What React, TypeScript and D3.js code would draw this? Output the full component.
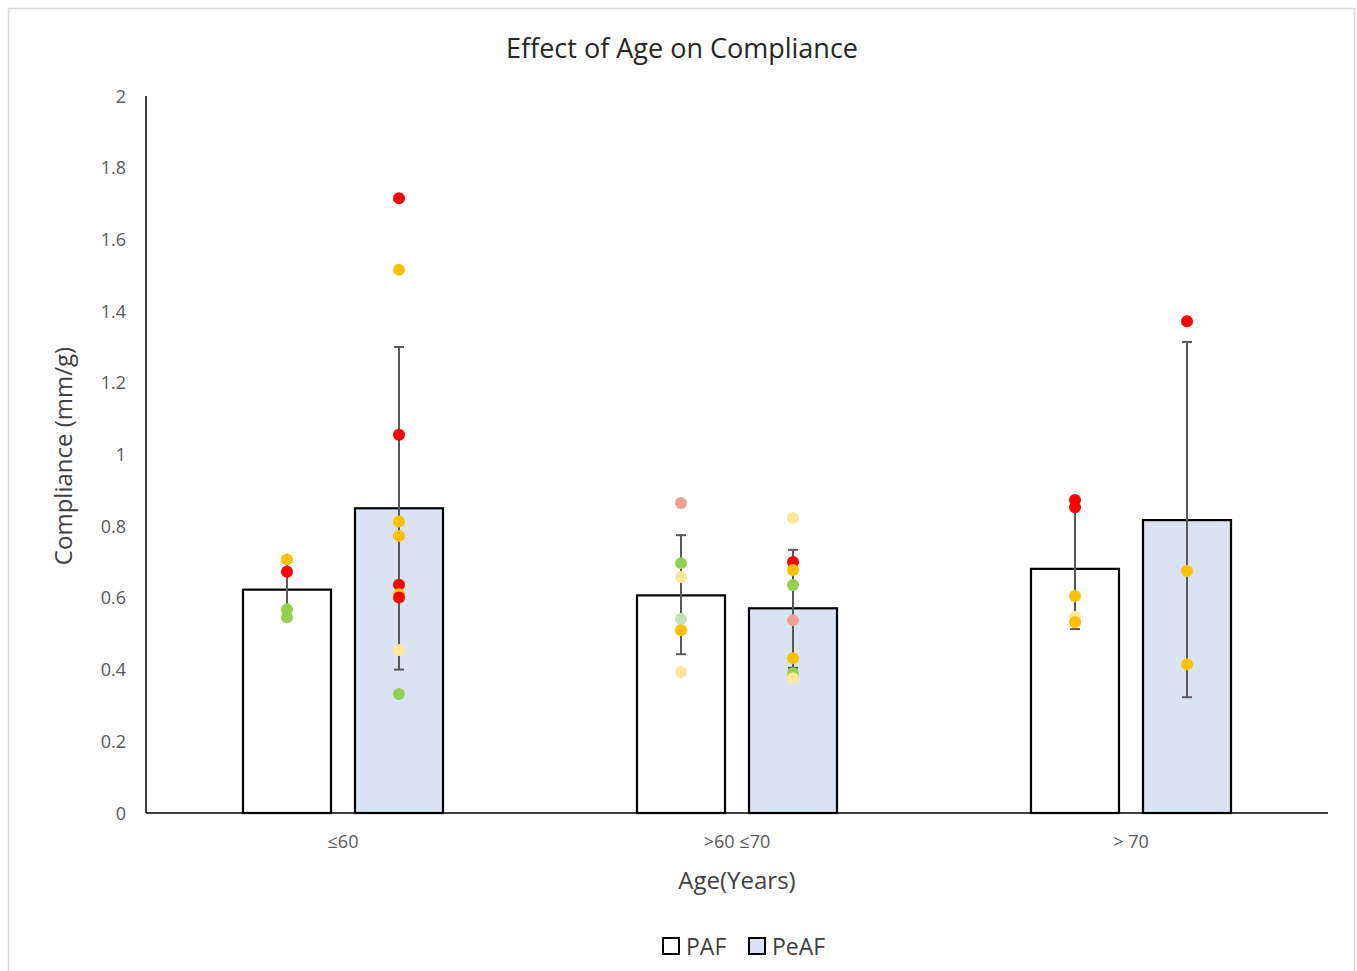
import React, { useEffect, useRef } from 'react';
import * as d3 from 'd3';

const categories = ['≤60', '>60 ≤70', '> 70'];
const seriesNames = ['PAF', 'PeAF'];
const pafMeans = [0.623, 0.607, 0.681];
const peafMeans = [0.850, 0.571, 0.817];
const pafErrLow = [0.55, 0.443, 0.513];
const pafErrHigh = [0.70, 0.775, 0.85];
const peafErrLow = [0.40, 0.405, 0.323];
const peafErrHigh = [1.30, 0.734, 1.314];

// individual patients, colour key per point
const pafPoints = [
  [0.707, 0.673, 0.568, 0.546],
  [0.865, 0.697, 0.658, 0.541, 0.510, 0.393],
  [0.873, 0.853, 0.605, 0.547, 0.532],
];
const pafPointKeys = [
  ['amber', 'red', 'green', 'green'],
  ['salmon', 'green', 'pale', 'sage', 'amber', 'pale'],
  ['red', 'red', 'amber', 'pale', 'amber'],
];
const peafPoints = [
  [1.715, 1.515, 1.055, 0.813, 0.773, 0.637, 0.610, 0.601, 0.455, 0.332],
  [0.823, 0.700, 0.678, 0.636, 0.538, 0.432, 0.390, 0.376],
  [1.372, 0.675, 0.415],
];
const peafPointKeys = [
  ['red', 'amber', 'red', 'amber', 'amber', 'red', 'amber', 'red', 'pale', 'green'],
  ['pale', 'red', 'amber', 'green', 'salmon', 'amber', 'green', 'pale'],
  ['red', 'amber', 'amber'],
];
const yTicks = [0, 0.2, 0.4, 0.6, 0.8, 1, 1.2, 1.4, 1.6, 1.8, 2];

const pointColors: Record<string, string> = {
  red: '#FF0000',
  amber: '#FFC000',
  green: '#92D050',
  pale: '#FFE699',
  salmon: '#ECA197',
  sage: '#C5E0B4',
};
const barFill: Record<string, string> = { PAF: '#FFFFFF', PeAF: '#DAE3F3' };

const App: React.FC = () => {
  const svgRef = useRef<SVGSVGElement>(null);

  useEffect(() => {
    if (!svgRef.current) return;
    const svg = d3.select(svgRef.current);
    svg.selectAll('*').remove();

    const font = '"Open Sans", sans-serif';
    const left = 146, right = 1328, top = 96, bottom = 813;

    const y = d3.scaleLinear().domain([0, 2]).range([bottom, top]);
    const x0 = d3.scaleBand<string>().domain(categories).range([left, right]);
    const x1 = d3.scaleBand<string>()
      .domain(seriesNames)
      .range([0, x0.bandwidth()])
      .paddingInner(0.2143)
      .paddingOuter(0.866);

    // outer frame
    svg.append('rect')
      .attr('x', 8.5).attr('y', 8.5)
      .attr('width', 1346).attr('height', 975)
      .attr('fill', '#fff')
      .attr('stroke', '#D9D9D9')
      .attr('stroke-width', 1.5);

    svg.append('text')
      .attr('x', 682).attr('y', 58)
      .attr('text-anchor', 'middle')
      .attr('font-family', font)
      .attr('font-size', 27)
      .attr('fill', '#262626')
      .text('Effect of Age on Compliance');

    // y tick labels
    svg.append('g').selectAll('text')
      .data(yTicks)
      .join('text')
      .attr('x', 126)
      .attr('y', d => y(d) + 6.5)
      .attr('text-anchor', 'end')
      .attr('font-family', font)
      .attr('font-size', 18)
      .attr('fill', '#595959')
      .text(d => String(d));

    const groups = categories.map((c, i) => ({
      cat: c,
      bars: [
        { name: 'PAF', mean: pafMeans[i], lo: pafErrLow[i], hi: pafErrHigh[i], pts: pafPoints[i], keys: pafPointKeys[i] },
        { name: 'PeAF', mean: peafMeans[i], lo: peafErrLow[i], hi: peafErrHigh[i], pts: peafPoints[i], keys: peafPointKeys[i] },
      ],
    }));

    const g = svg.append('g');
    groups.forEach(grp => {
      grp.bars.forEach(b => {
        const bx = (x0(grp.cat) ?? 0) + (x1(b.name) ?? 0);
        const cx = bx + x1.bandwidth() / 2;
        g.append('rect')
          .attr('x', bx).attr('y', y(b.mean))
          .attr('width', x1.bandwidth())
          .attr('height', bottom - y(b.mean))
          .attr('fill', barFill[b.name])
          .attr('stroke', '#000')
          .attr('stroke-width', 2.2);
        g.append('line')
          .attr('x1', cx).attr('x2', cx)
          .attr('y1', y(b.lo)).attr('y2', y(b.hi))
          .attr('stroke', '#595959').attr('stroke-width', 2);
        [b.lo, b.hi].forEach(v => {
          g.append('line')
            .attr('x1', cx - 5).attr('x2', cx + 5)
            .attr('y1', y(v)).attr('y2', y(v))
            .attr('stroke', '#595959').attr('stroke-width', 2);
        });
        g.append('g').selectAll('circle')
          .data(b.pts.map((v, k) => ({ v, key: b.keys[k] })))
          .join('circle')
          .attr('cx', cx)
          .attr('cy', d => y(d.v))
          .attr('r', 6)
          .attr('fill', d => pointColors[d.key]);
      });
    });

    // axes lines
    svg.append('line')
      .attr('x1', left).attr('x2', left)
      .attr('y1', top).attr('y2', bottom)
      .attr('stroke', '#000').attr('stroke-width', 1.5);
    svg.append('line')
      .attr('x1', left).attr('x2', right)
      .attr('y1', bottom).attr('y2', bottom)
      .attr('stroke', '#000').attr('stroke-width', 1.5);

    // x tick labels
    svg.append('g').selectAll('text')
      .data(categories)
      .join('text')
      .attr('x', d => (x0(d) ?? 0) + x0.bandwidth() / 2)
      .attr('y', 848)
      .attr('text-anchor', 'middle')
      .attr('font-family', font)
      .attr('font-size', 18)
      .attr('fill', '#595959')
      .text(d => d);

    svg.append('text')
      .attr('x', 737).attr('y', 889)
      .attr('text-anchor', 'middle')
      .attr('font-family', font)
      .attr('font-size', 24)
      .attr('fill', '#404040')
      .text('Age(Years)');

    svg.append('text')
      .attr('transform', 'translate(72,456) rotate(-90)')
      .attr('text-anchor', 'middle')
      .attr('font-family', font)
      .attr('font-size', 24)
      .attr('fill', '#404040')
      .text('Compliance (mm/g)');

    // legend
    const legendX = [663, 749];
    seriesNames.forEach((s, i) => {
      svg.append('rect')
        .attr('x', legendX[i]).attr('y', 938)
        .attr('width', 16).attr('height', 16)
        .attr('fill', barFill[s])
        .attr('stroke', '#000').attr('stroke-width', 2);
      svg.append('text')
        .attr('x', legendX[i] + 23).attr('y', 955)
        .attr('font-family', font)
        .attr('font-size', 23)
        .attr('fill', '#404040')
        .text(s);
    });
  }, []);

  return (
    <svg
      ref={svgRef}
      width={1357}
      height={971}
      style={{ position: 'absolute', left: 0, top: 0, display: 'block' }}
    />
  );
};

export default App;
